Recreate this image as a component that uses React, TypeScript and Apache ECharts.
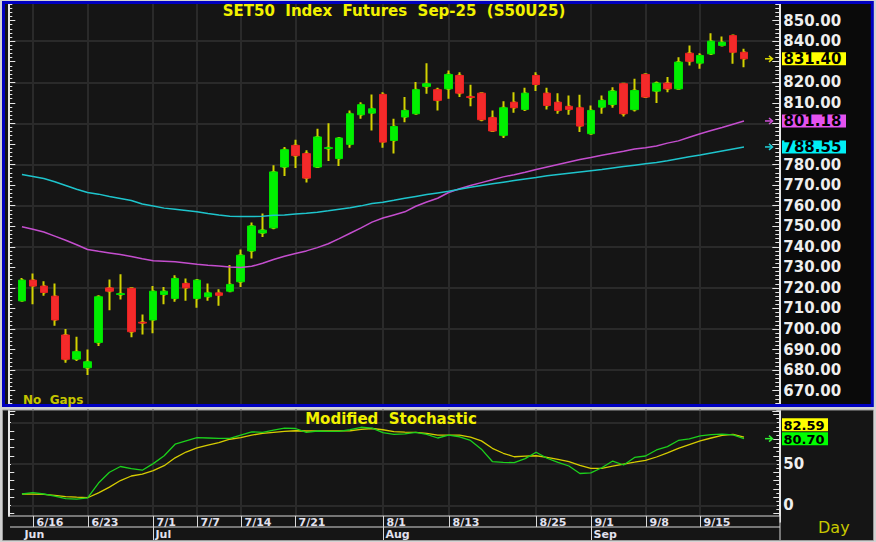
import React, { useEffect, useRef } from 'react';
import * as echarts from 'echarts';

// ---------- data ----------
const dates = [
  '6/13', '6/16', '6/17', '6/18', '6/19', '6/20', '6/23', '6/24', '6/25', '6/26', '6/27',
  '6/30', '7/1', '7/2', '7/3', '7/4', '7/7', '7/8', '7/9', '7/11', '7/14', '7/15', '7/16', '7/17', '7/18',
  '7/21', '7/22', '7/23', '7/24', '7/25', '7/29', '7/30', '7/31', '8/1', '8/4', '8/5', '8/6', '8/7', '8/8',
  '8/13', '8/14', '8/15', '8/18', '8/19', '8/20', '8/21', '8/22', '8/25', '8/26', '8/27', '8/28', '8/29',
  '9/1', '9/2', '9/3', '9/4', '9/5', '9/8', '9/9', '9/10', '9/11', '9/12', '9/15', '9/16', '9/17', '9/18', '9/19',
];

const openP = [
  713.7, 723.8, 720.9, 716.0, 697.1, 685.4, 681.2, 693.5, 720.0, 716.8,
  719.8, 703.3, 704.4, 716.8, 714.9, 722.2, 714.9, 715.7, 717.6, 718.4,
  723.0, 738.0, 746.7, 749.2, 778.8, 789.3, 785.3, 778.8, 787.8, 782.9,
  789.8, 804.2, 805.0, 814.1, 791.7, 803.1, 804.7, 818.0, 816.4, 816.8,
  823.3, 813.0, 814.7, 802.8, 794.2, 810.3, 806.8, 823.3, 814.7, 810.3,
  808.3, 807.6, 795.0, 807.9, 809.2, 819.3, 806.7, 823.8, 815.7, 819.6,
  816.8, 834.1, 829.3, 833.8, 837.9, 842.7, 834.6,
];
const closeP = [
  723.8, 720.9, 717.8, 704.4, 685.3, 689.0, 684.1, 715.7, 718.4, 717.2,
  698.7, 702.9, 718.4, 718.4, 724.6, 720.0, 723.8, 717.6, 716.4, 721.7,
  735.9, 750.1, 748.1, 776.4, 787.2, 784.3, 773.4, 793.4, 788.2, 792.9,
  804.7, 809.1, 807.1, 790.9, 798.5, 806.3, 816.4, 819.3, 811.2, 823.8,
  814.7, 812.6, 801.8, 796.3, 807.6, 807.6, 814.7, 818.9, 808.7, 806.3,
  806.8, 798.7, 806.3, 811.2, 815.7, 804.7, 816.0, 812.8, 819.6, 816.8,
  829.8, 830.2, 833.0, 840.0, 839.5, 834.6, 831.4,
];
const lowP = [
  713.5, 712.1, 716.2, 701.6, 683.6, 684.5, 677.7, 691.7, 709.2, 714.4,
  696.0, 697.4, 697.9, 712.1, 713.3, 713.7, 710.3, 713.7, 711.3, 718.2,
  720.5, 734.3, 744.8, 748.5, 774.4, 778.3, 771.2, 778.3, 781.7, 779.3,
  788.2, 802.3, 796.6, 788.2, 785.3, 800.6, 804.2, 814.4, 806.3, 812.0,
  812.8, 808.3, 801.1, 795.8, 792.9, 805.2, 806.0, 815.7, 806.7, 804.7,
  804.2, 795.8, 794.5, 804.7, 807.6, 803.4, 805.8, 812.3, 809.9, 815.2,
  816.4, 828.2, 826.6, 833.6, 837.4, 829.0, 827.3,
];
const highP = [
  724.8, 727.0, 723.3, 722.2, 700.0, 696.3, 690.1, 716.4, 724.1, 726.6,
  720.0, 707.1, 720.9, 720.5, 726.1, 724.6, 724.1, 722.2, 719.3, 731.1,
  738.7, 751.8, 756.2, 779.6, 788.5, 792.1, 786.9, 797.4, 800.1, 793.4,
  806.3, 810.3, 814.1, 815.2, 802.3, 812.8, 820.1, 829.3, 817.3, 825.7,
  824.9, 818.8, 815.0, 806.3, 810.8, 815.2, 817.3, 824.9, 817.3, 814.7,
  813.6, 813.9, 808.7, 813.6, 817.6, 819.5, 821.7, 824.4, 820.4, 822.5,
  832.2, 837.9, 834.1, 843.8, 842.2, 843.0, 836.3,
];

// moving averages (magenta = shorter, cyan = longer)
const maMagenta = [
  749.7, 748.5, 747.2, 745.2, 743.2, 741.0, 738.7, 737.8, 737.0, 736.2,
  735.3, 734.2, 733.2, 733.0, 732.7, 732.1, 731.5, 731.0, 730.6, 730.2,
  729.9, 730.5, 732.0, 733.8, 735.4, 736.7, 738.0, 739.6, 741.5, 744.0,
  746.6, 749.2, 752.0, 754.0, 755.5, 757.0, 759.7, 761.8, 763.6, 766.4,
  768.2, 769.8, 771.2, 772.6, 774.0, 775.0, 776.2, 777.6, 778.8, 780.0,
  781.2, 782.4, 783.4, 784.5, 785.5, 786.5, 787.6, 788.2, 789.0, 790.4,
  791.5, 793.3, 795.0, 796.5, 798.0, 799.6, 801.18,
];
const maCyan = [
  775.2, 774.2, 773.2, 771.6, 769.8, 768.0, 766.4, 765.6, 764.5, 763.5,
  762.5, 760.8, 759.8, 758.8, 758.2, 757.6, 757.0, 756.2, 755.5, 754.9,
  754.7, 754.7, 754.9, 755.3, 755.5, 756.0, 756.3, 756.8, 757.5, 758.3,
  759.0, 759.9, 761.0, 761.7, 762.6, 763.6, 764.5, 765.4, 766.2, 767.0,
  768.0, 769.0, 769.8, 770.6, 771.4, 772.2, 773.0, 773.7, 774.5, 775.2,
  775.8, 776.4, 777.0, 777.6, 778.3, 779.0, 779.7, 780.4, 781.0, 781.8,
  782.8, 783.8, 784.6, 785.6, 786.6, 787.6, 788.55,
];

// Modified Stochastic
const stochK = [
  13.7, 15.3, 13.7, 11.0, 8.0, 7.6, 9.0, 27.0, 40.0, 47.0,
  44.5, 42.5, 50.5, 60.0, 74.0, 78.0, 82.0, 81.5, 81.0, 81.0,
  85.0, 89.0, 88.4, 91.0, 93.4, 93.0, 88.4, 90.0, 89.5, 89.5,
  91.5, 94.5, 93.5, 88.0, 86.0, 86.5, 88.4, 86.0, 81.5, 85.0,
  83.0, 78.5, 68.0, 53.0, 52.0, 51.6, 56.5, 64.2, 57.0, 52.0,
  47.6, 38.5, 39.3, 45.5, 53.6, 48.8, 58.0, 59.7, 67.0, 71.0,
  78.5, 80.5, 84.0, 85.5, 86.3, 85.2, 80.70,
];
const stochD = [
  13.7, 13.5, 13.3, 12.0, 10.5, 9.8, 9.2, 15.0, 22.0, 30.0,
  35.5, 37.8, 42.0, 48.0, 57.5, 64.5, 69.5, 73.0, 76.0, 80.0,
  82.0, 85.0, 87.0, 88.4, 89.5, 90.3, 90.0, 90.0, 90.0, 90.2,
  90.3, 92.0, 93.0, 91.5, 89.1, 88.7, 88.4, 87.0, 85.1, 85.1,
  85.0, 82.5, 78.0, 69.0, 63.0, 58.8, 59.5, 60.0, 58.0, 55.5,
  52.8, 48.5, 44.8, 44.8, 47.5, 50.0, 52.2, 54.5, 58.5, 63.5,
  69.0, 73.5, 78.0, 81.5, 84.8, 86.0, 82.59,
];

const dateTickLabels = ['6/16', '6/23', '7/1', '7/7', '7/14', '7/21', '8/1', '8/13', '8/25', '9/1', '9/8', '9/15'];
const monthLabels = ['Jun', 'Jul', 'Aug', 'Sep'];
const monthStartDates = ['6/13', '7/1', '8/1', '9/1'];
const stochGridLevels = [0, 50, 100];
const stochLabelValues = [0, 50];

const titleText = 'SET50  Index  Futures  Sep-25  (S50U25)';
const stochTitle = 'Modified  Stochastic';

// ---------- helpers ----------
const cats = ['_p0', ...dates, '_p1', '_p2', '_p3'];
const pad = (arr: any[]) => ['-', ...arr, '-', '-', '-'];
const tickIdx = new Set(dateTickLabels.map((d) => dates.indexOf(d) + 1));
const LAST = dates.length - 1;
const priceBadgeValues = [closeP[LAST], maMagenta[LAST], maCyan[LAST]];

const C_GRID = '#2a2a2a';
const C_AX = '#e6e6e6';
const FONT = '"DejaVu Sans", Verdana, sans-serif';

function buildOption(): any {
  const empty = ['-', '-', '-', '-'];
  const wickData = pad(dates.map((_, i) => [openP[i], closeP[i], lowP[i], highP[i]])).map((d) => (d === '-' ? empty : d));
  const bodyData = pad(
    dates.map((_, i) => [openP[i], closeP[i], Math.min(openP[i], closeP[i]), Math.max(openP[i], closeP[i])])
  ).map((d) => (d === '-' ? empty : d));

  const xBase = {
    type: 'category',
    data: cats,
    boundaryGap: false,
    axisLine: { show: false },
    axisTick: { show: false },
    axisLabel: { show: false },
    splitLine: { show: true, interval: (i: number) => tickIdx.has(i), lineStyle: { color: C_GRID, width: 2 } },
  };
  const rulerTicks = (len: number, minorLen: number, split: number) => ({
    axisLine: { show: true, lineStyle: { color: C_AX, width: 2 } },
    axisTick: { show: true, inside: true, length: len, lineStyle: { color: C_AX, width: 1 } },
    minorTick: { show: true, splitNumber: split, length: minorLen, lineStyle: { color: C_AX, width: 1 } },
  });

  return {
    animation: false,
    backgroundColor: '#d2d2d2',
    grid: [
      { left: 11, top: -0.59, width: 765.8, height: 411.9, show: false },
      { left: 11, top: 406.2, width: 765.8, height: 115.64, show: false },
    ],
    xAxis: [
      { ...xBase, gridIndex: 0 },
      { ...xBase, gridIndex: 1 },
    ],
    yAxis: [
      {
        type: 'value', gridIndex: 0, position: 'left', offset: 2.7, min: 660, max: 860, interval: 10,
        ...rulerTicks(7, 4, 5), axisLabel: { show: false }, splitLine: { show: false },
      },
      {
        type: 'value', gridIndex: 0, position: 'right', offset: 2.5, min: 660, max: 860, interval: 10,
        ...rulerTicks(7, 4, 5),
        axisLabel: {
          show: true, showMinLabel: false, showMaxLabel: false, margin: 4, color: '#eeeeee',
          fontFamily: FONT, fontWeight: 'bold', fontSize: 15,
          // labels hidden behind the value badges are left out
          formatter: (v: number) => (priceBadgeValues.some((b) => Math.abs(b - v) < 4) ? '' : v.toFixed(2)),
        },
        splitLine: { show: false },
      },
      {
        type: 'value', gridIndex: 0, position: 'left', offset: 2.7, min: 660, max: 860, interval: 20,
        axisLine: { show: false }, axisTick: { show: false }, axisLabel: { show: false },
        splitLine: { show: true, showMinLine: false, showMaxLine: false, lineStyle: { color: C_GRID, width: 2 } },
      },
      {
        type: 'value', gridIndex: 1, position: 'left', offset: 2.7, min: -20, max: 120, interval: 10,
        axisLine: { show: true, lineStyle: { color: C_AX, width: 2 } },
        axisTick: { show: true, inside: true, length: 6, lineStyle: { color: C_AX } },
        axisLabel: { show: false }, splitLine: { show: false },
      },
      {
        type: 'value', gridIndex: 1, position: 'right', offset: 2.5, min: -20, max: 120, interval: 10,
        ...rulerTicks(6, 3, 2),
        axisLabel: {
          show: true, margin: 4, color: '#eeeeee', fontFamily: FONT, fontWeight: 'bold', fontSize: 15,
          formatter: (v: number) => (stochLabelValues.includes(v) ? String(v) : ''),
        },
        splitLine: { show: false },
      },
    ],
    series: [
      {
        type: 'candlestick', name: 'wick', xAxisIndex: 0, yAxisIndex: 1, data: wickData, barWidth: 2, silent: true, z: 3,
        itemStyle: { color: '#d2d200', color0: '#d2d200', borderColor: '#d2d200', borderColor0: '#d2d200', borderWidth: 2 },
      },
      {
        type: 'candlestick', name: 'body', xAxisIndex: 0, yAxisIndex: 1, data: bodyData, barWidth: 8, silent: true, z: 4,
        itemStyle: { color: '#00f000', color0: '#f42a2a', borderColor: '#00e000', borderColor0: '#e82222', borderWidth: 1 },
      },
      {
        type: 'line', name: 'MA short', xAxisIndex: 0, yAxisIndex: 1, data: pad(maMagenta), symbol: 'none', silent: true, z: 5,
        lineStyle: { color: '#c44ece', width: 1.5 },
      },
      {
        type: 'line', name: 'MA long', xAxisIndex: 0, yAxisIndex: 1, data: pad(maCyan), symbol: 'none', silent: true, z: 5,
        lineStyle: { color: '#1ec4cc', width: 1.5 },
      },
      {
        type: 'line', name: '%D', xAxisIndex: 1, yAxisIndex: 4, data: pad(stochD), symbol: 'none', silent: true, z: 3,
        lineStyle: { color: '#d6cc00', width: 1.3 },
        markLine: {
          silent: true, z: 1, symbol: ['none', 'none'], label: { show: false }, animation: false,
          lineStyle: { color: C_GRID, width: 2, type: 'solid' },
          emphasis: { disabled: true },
          data: stochGridLevels.map((v) => ({ yAxis: v })),
        },
      },
      {
        type: 'line', name: '%K', xAxisIndex: 1, yAxisIndex: 4, data: pad(stochK), symbol: 'none', silent: true, z: 4,
        lineStyle: { color: '#1cd01c', width: 1.3 },
      },
    ],
  };
}

function txt(text: string, x: number, y: number, fill: string, font: string, align = 'left', z = 101, lh?: number): any {
  const style: any = { text, fill, font, align, verticalAlign: 'middle', textAlign: align, textVerticalAlign: 'middle' };
  if (lh) style.lineHeight = lh;
  return { type: 'text', x, y, z, silent: true, style };
}
function rect(x: number, y: number, w: number, h: number, style: any, z: number): any {
  return { type: 'rect', shape: { x, y, width: w, height: h }, style, z, silent: true };
}
function line(x1: number, y1: number, x2: number, y2: number, stroke: string, z: number, lw = 1): any {
  return { type: 'line', shape: { x1, y1, x2, y2 }, style: { stroke, lineWidth: lw }, z, silent: true };
}
function arrow(x: number, y: number, color: string): any[] {
  return [
    line(x, y, x + 7, y, color, 101, 1.5),
    { type: 'polyline', shape: { points: [[x + 4, y - 3], [x + 7.5, y], [x + 4, y + 3]] }, style: { stroke: color, lineWidth: 1.5, fill: 'none' }, z: 101, silent: true },
  ];
}
function badge(text: string, y: number, bg: string, w: number, size = 15): any[] {
  return [
    rect(782, y - 6.5, w, 13, { fill: bg }, 100),
    txt(text, 783.5, y + 0.5, '#000000', `bold ${size}px ${FONT}`, 'left', 101, 12),
  ];
}

function buildGraphics(chart: any): any[] {
  const g: any[] = [];
  const py = (axis: number, v: number) => chart.convertToPixel({ yAxisIndex: axis }, v) as number;
  const px = (axis: number, i: number) => chart.convertToPixel({ xAxisIndex: axis }, i) as number;

  // panel backgrounds
  g.push(rect(4, 4, 868, 401, { fill: '#151515' }, -5));
  g.push(rect(780, 4, 92, 401, { fill: '#0a0a0a' }, -4));
  g.push(rect(3, 410, 870, 130, { fill: '#151515' }, -5));

  // frame overlays
  const frame = '#d2d2d2';
  g.push(rect(0, 0, 876, 1.5, { fill: frame }, 100));
  g.push(rect(0, 0, 2, 542, { fill: frame }, 100));
  g.push(rect(873.5, 0, 2.5, 542, { fill: frame }, 100));
  g.push(rect(0, 407, 876, 2.6, { fill: frame }, 100));
  g.push(rect(0, 540.5, 876, 1.5, { fill: frame }, 100));
  g.push(rect(3.5, 2.5, 868.8, 403, { fill: 'none', stroke: '#0000c0', lineWidth: 3 }, 100));
  g.push(rect(2.5, 410, 871, 130.5, { fill: 'none', stroke: '#9a9a9a', lineWidth: 1 }, 100));

  // date strip
  const sc = '#d8d8d8';
  g.push(rect(5, 516.4, 774.5, 23.8, { fill: '#151515' }, 50));
  g.push(line(8, 516, 780, 516, sc, 60));
  g.push(line(10, 527, 780, 527, sc, 60));
  g.push(line(780, 516, 780, 540.5, sc, 60));
  dateTickLabels.forEach((d) => {
    const x = Math.round(px(1, dates.indexOf(d) + 1)) + 0.5;
    g.push(line(x, 516, x, 527, sc, 60));
    g.push(txt(d, x + 3, 522, '#e2e2ee', `bold 11px ${FONT}`, 'left', 61));
  });
  monthLabels.forEach((m, k) => {
    const x = Math.round(px(1, dates.indexOf(monthStartDates[k]) + 1)) + 0.5;
    if (k > 0) g.push(line(x, 527, x, 540.5, sc, 60));
    g.push(txt(m, x + 2, 534, '#e2e2ee', `bold 11px ${FONT}`, 'left', 61));
  });

  // titles & captions
  g.push(txt(titleText, 394, 10.5, '#f2f200', `bold 15px ${FONT}`, 'center'));
  g.push(txt(stochTitle, 391, 418.5, '#f2f200', `bold 15px ${FONT}`, 'center'));
  g.push(txt('No  Gaps', 23, 399.5, '#c4c400', `bold 12px ${FONT}`, 'left'));
  g.push(txt('Day', 818, 527.5, '#c8c800', `16px ${FONT}`, 'left'));

  // price badges
  const yClose = py(1, closeP[LAST]);
  const yMag = py(1, maMagenta[LAST]);
  const yCy = py(1, maCyan[LAST]);
  g.push(...badge(closeP[LAST].toFixed(2), yClose, '#ffff00', 64));
  g.push(...arrow(765, yClose, '#e0e000'));
  g.push(...badge(maMagenta[LAST].toFixed(2), yMag, '#e452ee', 64));
  g.push(...arrow(765, yMag, '#d050d8'));
  g.push(...badge(maCyan[LAST].toFixed(2), yCy, '#00eef4', 64));
  g.push(...arrow(765, yCy, '#20d0d8'));

  // stochastic badges (stacked so they do not collide)
  const yK = py(4, stochK[LAST]);
  let yD = py(4, stochD[LAST]);
  if (Math.abs(yD - yK) < 14) yD = stochD[LAST] >= stochK[LAST] ? yK - 14 : yK + 14;
  g.push(...badge(stochD[LAST].toFixed(2), yD, '#ffff00', 46, 13));
  g.push(...badge(stochK[LAST].toFixed(2), yK, '#00ff00', 46, 13));
  g.push(...arrow(765, yK, '#30f030'));

  return g;
}

export default function App() {
  const ref = useRef<HTMLDivElement>(null);
  useEffect(() => {
    if (!ref.current) return;
    const chart = echarts.init(ref.current, null, { renderer: 'svg' });
    chart.setOption(buildOption());
    chart.setOption({ graphic: { elements: buildGraphics(chart) } });
    return () => chart.dispose();
  }, []);
  return <div ref={ref} style={{ position: 'fixed', left: 0, top: 0, width: 876, height: 542 }} />;
}
